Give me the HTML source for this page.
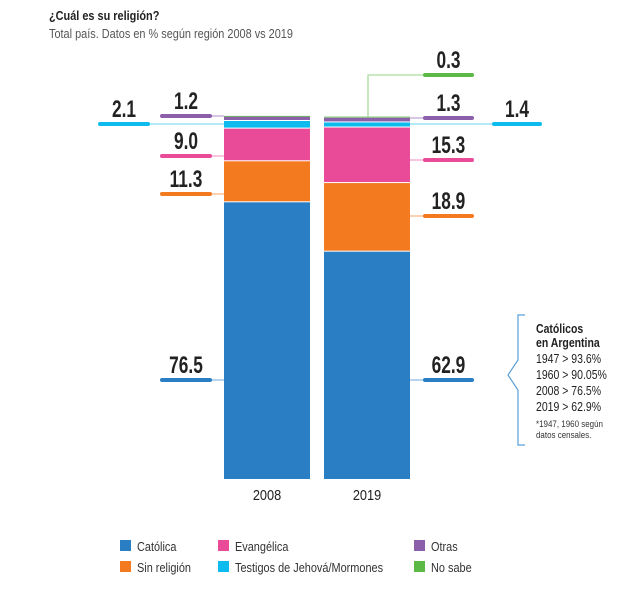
<!DOCTYPE html>
<html><head><meta charset="utf-8"><style>
body{margin:0;background:#fff;width:643px;height:590px;overflow:hidden;font-family:"Liberation Sans Narrow","Liberation Sans",sans-serif}
svg{display:block}
</style></head><body>
<svg id="chart" width="643" height="590">
<text class="n" x="49" y="20" font-size="13" font-weight="bold" fill="#222">¿Cuál es su religión?</text>
<text class="n" x="49" y="38" font-size="13" fill="#555">Total país. Datos en % según región 2008 vs 2019</text>
<g id="bars"></g><g id="labels"></g>
<g>
<path d="M525 315 H518 V360 L508 375 L518 390 V445 H525" fill="none" stroke="#5aa0d8" stroke-width="1.2"/>
<text class="n" x="536" y="333" font-size="12.5" font-weight="bold" fill="#222">Católicos</text>
<text class="n" x="536" y="347" font-size="12.5" font-weight="bold" fill="#222">en Argentina</text>
<text class="n" x="536" y="363" font-size="12.5" fill="#222">1947 &gt; 93.6%</text>
<text class="n" x="536" y="379" font-size="12.5" fill="#222">1960 &gt; 90.05%</text>
<text class="n" x="536" y="395" font-size="12.5" fill="#222">2008 &gt; 76.5%</text>
<text class="n" x="536" y="411" font-size="12.5" fill="#222">2019 &gt; 62.9%</text>
<text class="n" x="536" y="427" font-size="9.5" fill="#333">*1947, 1960 según</text>
<text class="n" x="536" y="438" font-size="9.5" fill="#333">datos censales.</text>
</g>
<g id="legend"></g>
</svg>
<script>
const years=["2008","2019"];
const categories=["Católica","Sin religión","Evangélica","Testigos de Jehová/Mormones","Otras","No sabe"];
const values2008=[76.5,11.3,9.0,2.1,1.2,0.2];
const values2019=[62.9,18.9,15.3,1.4,1.3,0.3];
const labeled2008=[true,true,true,true,true,false];
const labeled2019=[true,true,true,true,true,true];
const colors=["#2a7fc4","#f47a20","#ea4b98","#0dbbee","#8c5fab","#5cb946"];
const light=["#8fbde3","#f9b888","#f4a6cc","#86dcf6","#c3a9d5","#a8dc9c"];
const NS="http://www.w3.org/2000/svg";
const base=480, scale=3.63;
const yOf=v=>base-v*scale;
const barX=[224,324], barW=86;
function mk(tag,attrs,parent){const e=document.createElementNS(NS,tag);for(const k in attrs)e.setAttribute(k,attrs[k]);parent.appendChild(e);return e;}
function squeeze(t,x,f){t.setAttribute('transform',`translate(${x} 0) scale(${f} 1) translate(${-x} 0)`);}
const gb=document.getElementById('bars'), gl=document.getElementById('labels');
const series=[values2008,values2019];
const labelY=[[380,194,156,124,116,0],[380,216,160,124,118,75]];
series.forEach((vals,yi)=>{
  let cum=0;
  vals.forEach((v,ci)=>{
    const y0=yOf(cum), y1=yOf(cum+v);
    const r=mk('rect',{x:barX[yi],y:y1,width:barW,height:Math.max(0.8,y0-y1-1),fill:colors[ci]},gb);
    
    
    cum+=v;
    const lab=yi===0?labeled2008[ci]:labeled2019[ci];
    if(!lab)return;
    const ly=labelY[yi][ci];
    let lx1,lx2;
    if(yi===0){
      if(ci===3){lx1=100;lx2=148;}else{lx1=162;lx2=210;}
      mk('polyline',{points:`${lx2},${ly} ${barX[0]},${ly}`,fill:'none',stroke:light[ci],'stroke-width':1.3},gl);
    }else{
      if(ci===3){lx1=494;lx2=540;}else{lx1=425;lx2=472;}
      const cx1=barX[1]+barW;
      if(ci===5){
        const bx=368;
        mk('polyline',{points:`${bx},${y1} ${bx},${ly} ${lx1},${ly}`,fill:'none',stroke:light[ci],'stroke-width':1.3},gl);
      }else mk('polyline',{points:`${cx1},${ly} ${lx1},${ly}`,fill:'none',stroke:light[ci],'stroke-width':1.3},gl);
    }
    const ln=mk('line',{x1:lx1,x2:lx2,y1:ly,y2:ly,stroke:colors[ci],'stroke-width':4,'stroke-linecap':'round'},gl);
    
    
    const cx=(lx1+lx2)/2;
    const t=mk('text',{x:cx,y:ly-7,'text-anchor':'middle','font-size':24,'font-weight':'bold',fill:'#222'},gl);
    t.textContent=v.toFixed(1);
    squeeze(t,cx,0.72);
    
    
  });
  const cx=barX[yi]+barW/2;
  const yt=mk('text',{x:cx,y:500,'text-anchor':'middle','font-size':15,fill:'#222'},gb);
  yt.textContent=years[yi];
  squeeze(yt,cx,0.85);
  
  
});
const lg=document.getElementById('legend');
const legPos=[[120,546],[120,567],[218,546],[218,567],[414,546],[414,567]];
categories.forEach((c,i)=>{
  const g=mk('g',{},lg);
  
  
  mk('rect',{x:legPos[i][0],y:legPos[i][1]-6,width:11,height:11,fill:colors[i]},g);
  const tx=legPos[i][0]+17;
  const t=mk('text',{x:tx,y:legPos[i][1]+5,'font-size':13,fill:'#333'},g);
  t.textContent=c;
  squeeze(t,tx,0.84);
});
document.querySelectorAll('text.n').forEach(t=>squeeze(t,+t.getAttribute('x'),0.84));
</script>
</body></html>
